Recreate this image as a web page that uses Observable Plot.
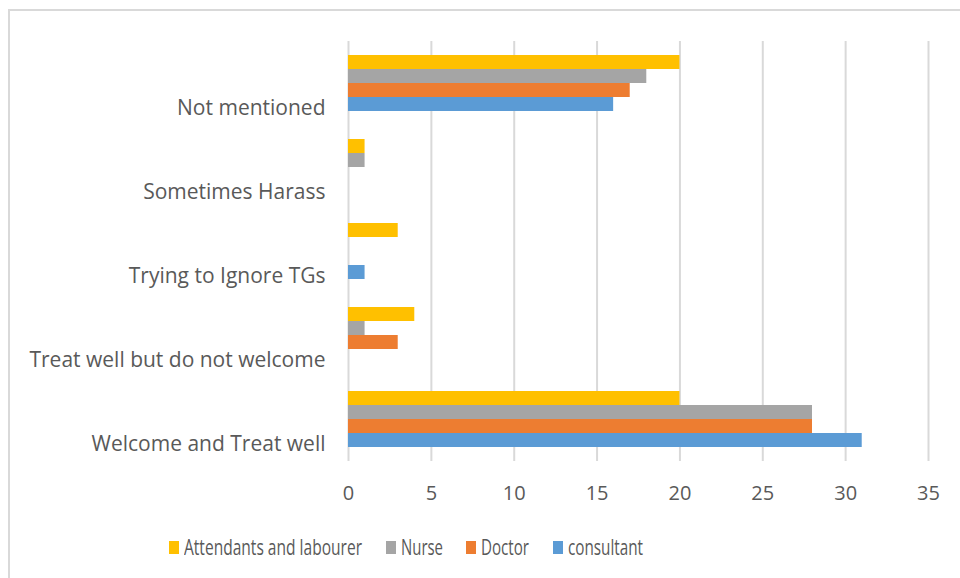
<!DOCTYPE html>
<html>
<head>
<meta charset="utf-8">
<script src="https://cdn.jsdelivr.net/npm/d3@7"></script>
<script src="https://cdn.jsdelivr.net/npm/@observablehq/plot@0.6"></script>
<style>
  html, body { margin: 0; padding: 0; background: #fff; overflow: hidden; }
  body { width: 960px; height: 578px; position: relative; font-family: "Open Sans", sans-serif; }
  #frame { position: absolute; left: 8px; top: 9px; width: 1000px; height: 620px; border: 2px solid #d9d9d9; box-sizing: border-box; }
  #chart { position: absolute; left: 0; top: 0; }
  #legend { position: absolute; left: 0; top: 533px; width: 960px; font-size: 21px; color: #595959; }
  .item { position: absolute; display: flex; align-items: center; white-space: nowrap; }
  .sw { width: 10px; height: 13px; margin-right: 5px; }
  .txt { display: inline-block; transform-origin: 0 50%; }
</style>
</head>
<body>
<div id="frame"></div>
<div id="chart"></div>
<div id="legend"></div>
<script>
const categories = ["Not mentioned", "Sometimes Harass", "Trying to Ignore TGs", "Treat well but do not welcome", "Welcome and Treat well"];
const seriesNames = ["Attendants and labourer", "Nurse", "Doctor", "consultant"];
const seriesColors = ["#FFC000", "#A5A5A5", "#ED7D31", "#5B9BD5"];
const attendants = [20, 1, 3, 4, 20];
const nurse = [18, 1, 0, 1, 28];
const doctor = [17, 0, 0, 3, 28];
const consultant = [16, 0, 1, 0, 31];
const xTicks = [0, 5, 10, 15, 20, 25, 30, 35];

const seriesValues = [attendants, nurse, doctor, consultant];
const rows = [];
categories.forEach((c, i) => {
  seriesNames.forEach((s, j) => rows.push({category: c, series: s, value: seriesValues[j][i]}));
});

const chart = Plot.plot({
  width: 960,
  height: 525,
  marginLeft: 348,
  marginRight: 32,
  marginTop: 39,
  marginBottom: 62,
  style: {fontFamily: "'Open Sans', sans-serif", fontSize: "21px", color: "#595959", background: "transparent"},
  x: {domain: [0, 35], ticks: xTicks},
  fy: {domain: categories, padding: 0},
  y: {domain: seriesNames, paddingInner: 0, paddingOuter: 0.92, axis: null},
  color: {domain: seriesNames, range: seriesColors},
  marks: [
    Plot.gridX(xTicks, {stroke: "#d9d9d9", strokeOpacity: 1, strokeWidth: 2}),
    Plot.barX(rows, {x: "value", y: "series", fy: "category", fill: "series", inset: 0}),
    Plot.axisX(xTicks, {tickSize: 0, tickPadding: 24, label: null, tickFormat: d => String(d), fill: "#595959", fontSize: 20}),
    Plot.axisFy({anchor: "left", tickSize: 0, tickPadding: 23, dy: 25, label: null, fill: "#595959"})
  ]
});
document.getElementById("chart").appendChild(chart);

const legendX = [169, 386, 466, 553];
const legendW = [178, 42, 48, 75];
const legend = document.getElementById("legend");
seriesNames.forEach((s, j) => {
  const item = document.createElement("div");
  item.className = "item";
  item.style.left = legendX[j] + "px";
  const sw = document.createElement("span");
  sw.className = "sw";
  sw.style.background = seriesColors[j];
  item.appendChild(sw);
  const t = document.createElement("span");
  t.className = "txt";
  t.textContent = s;
  item.appendChild(t);
  legend.appendChild(item);
  const w = t.getBoundingClientRect().width;
  t.style.transform = `scaleX(${legendW[j] / w})`;
});
</script>
</body>
</html>
